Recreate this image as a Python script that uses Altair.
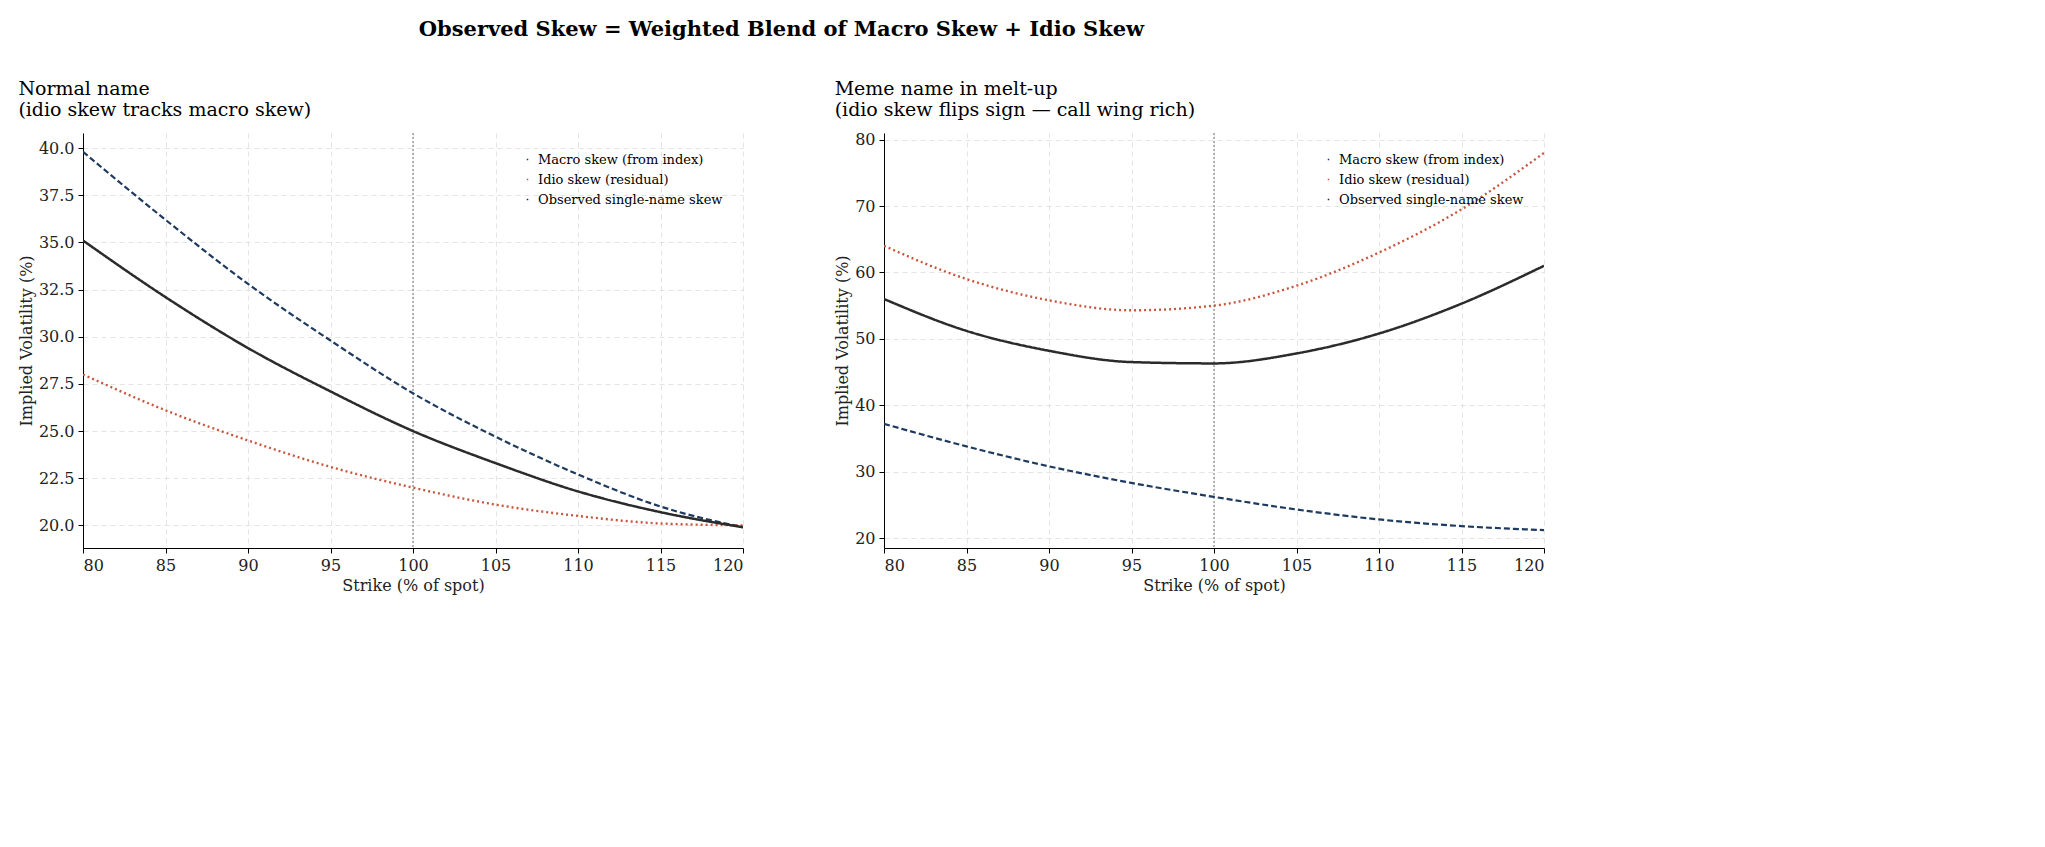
import altair as alt
import pandas as pd

strikes = [80, 85, 90, 95, 100, 105, 110, 115, 120]
l_macro = [39.8, 36.2, 32.8, 29.8, 27.0, 24.7, 22.7, 21.0, 19.9]
l_idio = [28.0, 26.1, 24.5, 23.1, 22.0, 21.1, 20.5, 20.1, 20.0]
l_obs = [35.1, 32.1, 29.4, 27.1, 25.0, 23.3, 21.8, 20.7, 19.9]
r_macro = [37.2, 33.8, 30.8, 28.3, 26.2, 24.3, 22.8, 21.8, 21.2]
r_idio = [64.0, 59.0, 55.8, 54.3, 55.0, 58.0, 63.0, 69.5, 78.0]
r_obs = [56.0, 51.2, 48.2, 46.5, 46.3, 47.8, 50.8, 55.3, 61.0]
names = ["Macro skew (from index)", "Idio skew (residual)", "Observed single-name skew"]
colors = ["#1f3a5f", "#c8553d", "#2b2b2b"]
dashes = [[6, 3], [2, 3], [1, 0]]
widths = [2.2, 2.5, 3.5]
FONT = "DejaVu Serif"


def panel(series, title, ydom, ystep):
    rows = []
    for n, vals in zip(names, series):
        for s, v in zip(strikes, vals):
            rows.append({"strike": s, "iv": v, "series": n})
    df = pd.DataFrame(rows)
    leg = alt.Legend(title=None, orient="top-right", labelFont=FONT, labelFontSize=13,
                     symbolSize=700, symbolType="stroke", labelLimit=400, padding=2,
                     rowPadding=6)
    xs = alt.Scale(domain=[80, 120], nice=False, zero=False)
    lines = alt.Chart(df).mark_line(interpolate="monotone", clip=True).encode(
        x=alt.X("strike:Q", scale=xs,
                axis=alt.Axis(values=list(range(80, 121, 5)), title="Strike (% of spot)")),
        y=alt.Y("iv:Q", scale=alt.Scale(domain=ydom, nice=False, zero=False),
                axis=alt.Axis(values=ystep, title="Implied Volatility (%)",
                              format=".1f" if ystep[1] - ystep[0] < 5 else "d")),
        color=alt.Color("series:N", scale=alt.Scale(domain=names, range=colors), legend=leg),
        strokeDash=alt.StrokeDash("series:N", scale=alt.Scale(domain=names, range=dashes), legend=leg),
        size=alt.Size("series:N", scale=alt.Scale(domain=names, range=widths), legend=leg),
    )
    rule = alt.Chart(pd.DataFrame({"x": [100]})).mark_rule(
        color="#999999", strokeDash=[2, 2], strokeWidth=1.8, opacity=0.8).encode(
        x=alt.X("x:Q", scale=xs))
    return alt.layer(rule, lines).properties(
        width=660, height=415,
        title=alt.TitleParams(title, anchor="start", fontSize=19, font=FONT,
                              fontWeight="normal", offset=12))


left = panel([l_macro, l_idio, l_obs], ["Normal name", "(idio skew tracks macro skew)"],
             [18.8, 40.8], [20 + 2.5 * i for i in range(9)])
right = panel([r_macro, r_idio, r_obs],
              ["Meme name in melt-up", "(idio skew flips sign — call wing rich)"],
              [18.5, 81], list(range(20, 81, 10)))

chart = alt.hconcat(left, right, spacing=90).resolve_scale(
    color="independent", strokeDash="independent", size="independent"
).properties(
    title=alt.TitleParams("Observed Skew = Weighted Blend of Macro Skew + Idio Skew",
                          anchor="middle", fontSize=21, font=FONT, fontWeight="bold", offset=40),
    padding={"left": 10, "top": 10, "right": 10, "bottom": 10},
).configure_view(stroke=None).configure_axis(
    labelFont=FONT, titleFont=FONT, labelFontSize=16, titleFontSize=16,
    titleFontWeight="normal", labelColor="#222", titleColor="#222",
    domainColor="#000", tickColor="#000", grid=True, gridColor="#dddddd",
    gridDash=[5, 4], gridOpacity=0.8, labelPadding=4
)

chart.save("out.html", embed_options={"renderer": "svg", "actions": False})
